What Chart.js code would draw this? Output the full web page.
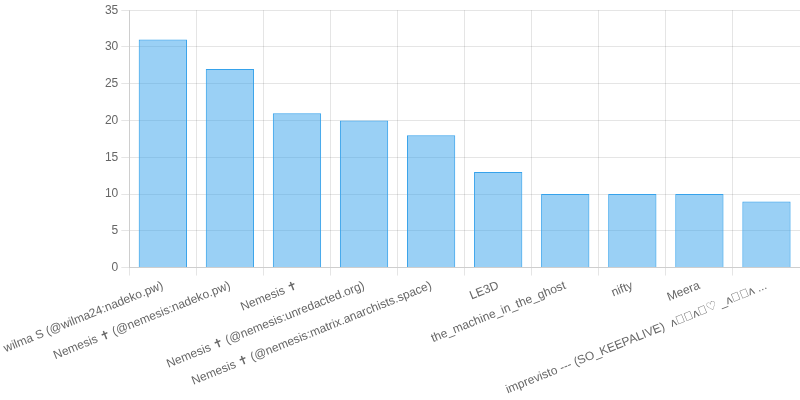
<!DOCTYPE html>
<html>
<head>
<meta charset="utf-8">
<script src="https://cdn.jsdelivr.net/npm/chart.js@4/dist/chart.umd.min.js"></script>
<style>
  html, body { margin: 0; padding: 0; background: #fff; }
  #wrap { width: 800px; height: 400px; }
</style>
</head>
<body>
<div id="wrap"><canvas id="usersChart"></canvas></div>
<script>
// usuarios y número de mensajes
const userLabels = [
    'wilma S (@wilma24:nadeko.pw)',
    'Nemesis \u271D (@nemesis:nadeko.pw)',
    'Nemesis \u271D',
    'Nemesis \u271D (@nemesis:unredacted.org)',
    'Nemesis \u271D (@nemesis:matrix.anarchists.space)',
    'LE3D',
    'the_machine_in_the_ghost',
    'nifty',
    'Meera',
    'imprevisto --- (SO_KEEPALIVE)  \u028C\uE000\uE000\u028C\uE000\u2661 _\u028C\uE000\uE000\u028C ...'
];
const messageCounts = [31, 27, 21, 20, 18, 13, 10, 10, 10, 9];

const yMax = 35;
const yStep = 5;

Chart.defaults.font.family = '"Liberation Sans", Arial, Helvetica, sans-serif';
Chart.defaults.color = '#666';

const ctx = document.getElementById('usersChart');
new Chart(ctx, {
    type: 'bar',
    data: {
        labels: userLabels,
        datasets: [{
            label: 'Mensajes',
            data: messageCounts,
            backgroundColor: 'rgba(54, 162, 235, 0.5)',
            borderColor: 'rgba(54, 162, 235, 1)',
            borderWidth: 1
        }]
    },
    options: {
        responsive: true,
        maintainAspectRatio: false,
        animation: false,
        plugins: {
            legend: { display: false },
            tooltip: { enabled: false }
        },
        scales: {
            y: {
                beginAtZero: true,
                max: yMax,
                ticks: { stepSize: yStep, font: { size: 12 } }
            },
            x: {
                ticks: { font: { size: 12 }, minRotation: 22, maxRotation: 22 }
            }
        }
    }
});
</script>
</body>
</html>
